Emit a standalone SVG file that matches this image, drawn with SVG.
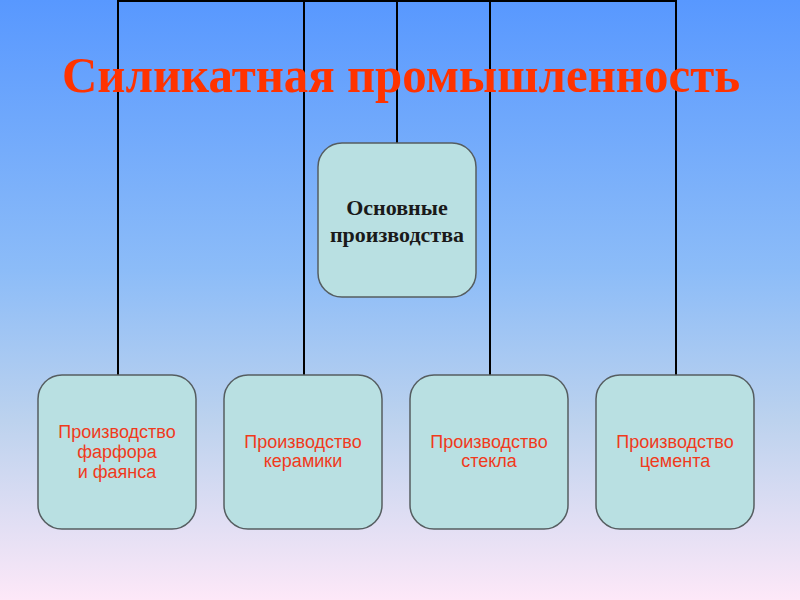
<svg xmlns="http://www.w3.org/2000/svg" width="800" height="600" viewBox="0 0 800 600">
<defs>
<linearGradient id="bg" x1="0" y1="0" x2="0" y2="1">
<stop offset="0" stop-color="#5898ff"/>
<stop offset="0.45" stop-color="#8cbcf8"/>
<stop offset="0.7" stop-color="#bcd2ee"/>
<stop offset="1" stop-color="#fde8f8"/>
</linearGradient>
<style>
.node rect{fill:#b9e0e2;stroke:#555d60;stroke-width:1.5}
.conn line{stroke:#000;stroke-width:2}
.sub{font-family:"Liberation Sans",Arial,sans-serif;font-size:18px;fill:#f03a1c;text-anchor:middle}
.main{font-family:"Liberation Serif","Times New Roman",serif;font-size:22px;font-weight:bold;fill:#1a1a1a;text-anchor:middle}
.title{font-family:"Liberation Serif","Times New Roman",serif;font-size:50px;font-weight:bold;fill:#ff3300;text-anchor:middle}
</style>
</defs>
<rect width="800" height="600" fill="url(#bg)"/>
<g id="connectors" class="conn">
<line x1="118" y1="1" x2="676" y2="1"/>
<line x1="118" y1="0" x2="118" y2="375"/>
<line x1="304" y1="0" x2="304" y2="375"/>
<line x1="397" y1="0" x2="397" y2="143"/>
<line x1="490" y1="0" x2="490" y2="375"/>
<line x1="676" y1="0" x2="676" y2="375"/>
</g>
<text class="title" x="401" y="92" textLength="678" lengthAdjust="spacingAndGlyphs">Силикатная промышленность</text>
<g id="main" class="node">
<rect x="318" y="143" width="158" height="154" rx="24"/>
<text class="main" x="397" y="215">Основные</text>
<text class="main" x="397" y="242">производства</text>
</g>
<g id="n1" class="node">
<rect x="38" y="375" width="158" height="154" rx="24"/>
<text class="sub" x="117" y="438">Производство</text>
<text class="sub" x="117" y="458">фарфора</text>
<text class="sub" x="117" y="478">и фаянса</text>
</g>
<g id="n2" class="node">
<rect x="224" y="375" width="158" height="154" rx="24"/>
<text class="sub" x="303" y="448">Производство</text>
<text class="sub" x="303" y="467">керамики</text>
</g>
<g id="n3" class="node">
<rect x="410" y="375" width="158" height="154" rx="24"/>
<text class="sub" x="489" y="448">Производство</text>
<text class="sub" x="489" y="467">стекла</text>
</g>
<g id="n4" class="node">
<rect x="596" y="375" width="158" height="154" rx="24"/>
<text class="sub" x="675" y="448">Производство</text>
<text class="sub" x="675" y="467">цемента</text>
</g>
</svg>
